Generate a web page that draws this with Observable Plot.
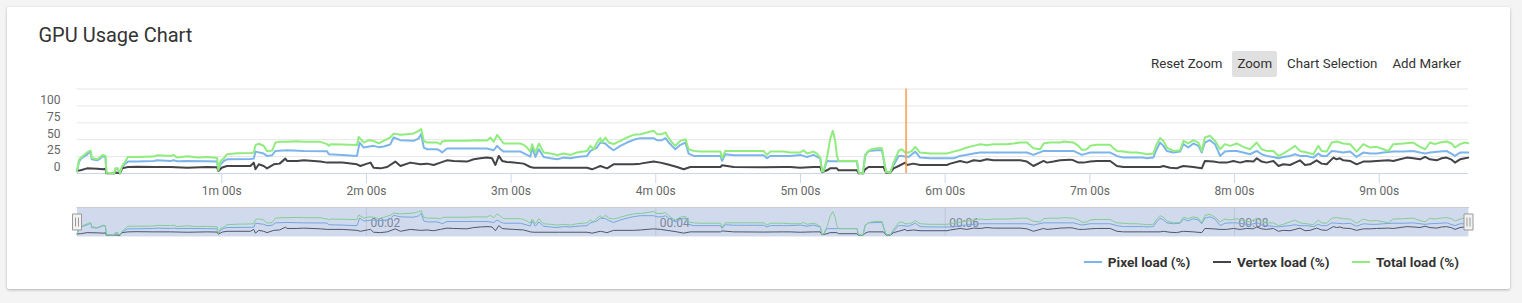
<!DOCTYPE html>
<html>
<head>
<meta charset="utf-8">
<script src="https://cdn.jsdelivr.net/npm/d3@7"></script>
<script src="https://cdn.jsdelivr.net/npm/@observablehq/plot@0.6"></script>
<style>
  html, body { margin: 0; padding: 0; }
  body { width: 1522px; height: 303px; overflow: hidden; position: relative; background: #f4f4f4; font-family: Roboto, "Noto Sans", sans-serif; }
  #card { position: absolute; left: 7px; top: 7px; width: 1503px; height: 282px; background: #fff; box-shadow: 0 1px 3px rgba(0,0,0,0.28); border-radius: 2px; }
  #title { position: absolute; left: 38.5px; top: 25px; font-size: 20px; line-height: 20px; color: #333; white-space: nowrap; }
  #buttons { position: absolute; right: 55.8px; top: 50.7px; display: flex; }
  #buttons span { display: block; height: 26.6px; line-height: 26.6px; padding: 0 5.3px; margin-left: 4.4px; font-size: 13.3px; color: #333; border-radius: 2px; white-space: nowrap; }
  #buttons span.active { background: #e0e0e0; }
  #legend { position: absolute; right: 63px; top: 253.5px; height: 17px; display: flex; align-items: center; }
  #legend .item { display: flex; align-items: center; margin-left: 22.5px; font-size: 13.6px; font-weight: bold; color: #333; white-space: nowrap; }
  #legend .item i { display: block; width: 18px; height: 2px; margin-right: 6px; }
  svg.abs { position: absolute; left: 0; }
</style>
</head>
<body>
<div id="card"></div>
<div id="title">GPU Usage Chart</div>
<div id="buttons"></div>
<div id="legend"></div>
<script>
// ---- data (seconds, percent) ----
const seriesNames = ["Pixel load (%)", "Vertex load (%)", "Total load (%)"];
const seriesColors = ["#7cb5ec", "#434348", "#90ed7d"];
const buttonLabels = ["Reset Zoom", "Zoom", "Chart Selection", "Add Marker"];
const activeButton = "Zoom";

const xTicks = [60, 120, 180, 240, 300, 360, 420, 480, 540];
const xTickLabels = ["1m 00s", "2m 00s", "3m 00s", "4m 00s", "5m 00s", "6m 00s", "7m 00s", "8m 00s", "9m 00s"];
const yTicks = [0, 25, 50, 75, 100];
const yGrid = [25, 50, 75, 100, 125];
const navTicks = [120, 240, 360, 480];
const navTickLabels = ["00:02", "00:04", "00:06", "00:08"];
const markerTimes = [343.8];
const timeDomain = [0, 577];

const totalLoad = [
  [0, 3], [0.8, 20], [1.5, 23], [2.8, 27], [4.2, 31], [5.2, 33.5], [5.8, 33], [6.1, 23], [8.4, 21], [9.7, 24.5], [10.6, 27.5], [11.8, 26], [12.2, 1], [15.5, 0.5], [16.0, 7.6], [16.9, 7.6], [17.8, 0.5], [18.7, 11], [19.7, 16], [21.1, 24.5], [24.9, 24.5], [31.8, 25], [33.2, 27], [38.8, 26], [40.1, 27.5], [41.5, 23.5], [45.7, 25.5], [50, 23.5], [54.0, 24.5], [56.7, 23.5], [58.1, 23], [58.6, 4.5], [59.5, 18.6], [60.9, 22.5], [62.2, 28.5], [66.4, 29.8], [71.9, 30.5], [73.3, 31], [74.0, 42], [75.4, 44], [77.4, 41], [78.8, 33], [80.9, 34], [82.3, 45.8], [83.7, 46.8], [87.1, 47], [91.3, 47.8], [94.0, 47], [100.9, 46.8], [103.7, 43.4], [104.4, 41], [105.1, 43.4], [110, 43], [116.1, 42], [116.8, 54.3], [118.9, 45.8], [121.0, 49.3], [123.0, 48.3], [125.1, 44.4], [127.2, 48.3], [129.9, 53.3], [131.3, 59],
  [134.1, 57.2], [136.9, 58.2], [139.6, 59.2], [141.7, 63.2], [142.7, 65.7], [143.8, 48.3], [145.2, 45.8], [149.3, 45.8], [150.7, 43.4], [151.4, 47.3], [153.4, 48.3], [161.7, 48.3], [166, 49.3], [170.0, 48.8], [171.4, 53.3], [172.8, 46.8], [174.2, 57.2], [175.6, 50.8], [176.9, 44.4], [183.9, 44.4], [185.2, 42.4], [186.6, 38.4], [188.0, 32.4], [188.7, 43.4], [190.1, 31.0], [191.5, 44.4], [193.5, 31.0], [196.3, 29.5], [199.1, 27.5], [201.8, 29.5], [204.6, 27.5], [207.3, 31.0], [211.5, 33.4], [212.9, 40.9], [214.3, 35.9], [215.6, 45.8], [217.0, 52.3], [217.7, 45.8], [219.1, 53.3], [220.5, 45.8], [222.5, 43.4], [225.3, 48.3], [228.1, 53.3], [230.8, 57.2], [233.6, 58.2], [236.4, 60.7], [239.1, 63.2], [240.5, 58.2], [242.6, 58.2], [244.0, 60.7], [245.4, 52.3], [246.7, 45.8], [248.1, 40.9], [250.2, 48.3], [252.3, 50.8], [253.6, 35.9], [255.7, 33.4], [258.5, 32.4], [266.8, 32.4], [267.5, 22.5], [268.8, 33.4], [272.3, 33.4], [284.7, 33.4], [286.1, 27.5], [287.5, 32.4], [293.0, 32.4],
  [295.7, 31.0], [299.9, 31.0], [301.3, 34.4], [302.7, 29.5], [305.4, 32.4], [306.8, 29.5], [308.2, 23.5], [308.9, 2.7], [309.6, 3.7], [311.0, 23.5], [312.3, 50.8], [313.4, 63.2], [314.4, 48.3], [315.1, 26.0], [315.8, 18.6], [323.4, 18.6], [324.1, 1.2], [325.9, 0.2], [326.8, 27.5], [328.2, 33.4], [329.6, 35.9], [331.7, 37.4], [333.8, 37.4], [334.4, 23.5], [335.5, 2.2], [337.2, 1.2], [338.6, 16.1], [340.7, 33.4], [342.0, 35.9], [343.4, 31.0], [344.8, 31.0], [346.2, 33.4], [347.6, 39.4], [349.6, 31.0], [353.8, 29.5], [360.7, 29.5], [363.5, 32.4], [366.2, 34.9], [369.0, 38.4], [371.8, 40.9], [374.5, 43.4], [377.3, 41.9], [380.0, 43.4], [385.6, 43.4], [388.3, 44.4], [391.1, 45.8], [393.9, 45.8], [396.6, 37.4], [399.4, 35.9], [400.8, 44.4], [403.5, 45.8], [407.7, 45.8], [409.1, 47.3], [413.2, 45.8], [415.3, 40.9], [416.7, 34.9], [418.7, 35.9], [420.1, 40.9], [422.9, 42.4], [428.4, 42.4], [429.8, 37.4], [431.2, 33.4], [433.9, 32.4], [436.7, 31.0], [439.5, 31.0], [442.2, 29.5],
  [443.6, 28.5], [446.3, 29.5], [447.7, 43.4], [449.1, 52.3], [450.5, 48.3], [451.9, 38.4], [454.6, 33.4], [457.4, 34.4], [458.8, 48.3], [460.8, 44.4], [462.9, 49.3], [465.0, 45.8], [466.4, 33.4], [467.7, 53.3], [469.8, 55.8], [471.9, 48.3], [474.0, 35.9], [476.0, 43.4], [478.1, 40.9], [480.9, 44.4], [483.6, 39.4], [486.4, 35.9], [489.2, 45.8], [491.2, 35.9], [493.3, 33.4], [496.1, 33.4], [498.2, 26.0], [500.2, 29.5], [503.0, 35.9], [505.1, 40.9], [507.1, 33.4], [509.9, 31.0], [512.7, 28.5], [514.7, 40.9], [516.1, 33.4], [518.2, 32.4], [520.3, 45.8], [522.3, 47.3], [525.1, 44.4], [527.9, 43.4], [530.6, 32.4], [533.4, 43.4], [536.2, 38.4], [538.9, 39.4], [541.7, 35.9], [543.8, 33.4], [545.8, 43.4], [550.0, 44.4], [554.1, 45.8], [556.9, 39.4], [559.0, 35.9], [561.0, 45.8], [563.1, 43.4], [565.2, 45.8], [567.9, 47.3], [570.0, 44.4], [571.4, 38.4], [573.5, 43.4], [575.5, 45.8], [576.9, 44.9]
];

const pixelLoad = [
  [0, 3], [0.8, 17], [1.5, 21], [2.8, 25], [4.2, 28], [5.2, 31], [5.8, 31], [6.1, 21], [8.4, 19.5], [9.7, 22.5], [10.6, 25.5], [11.8, 24.5], [12.2, 1], [15.5, 0.5], [16.0, 7], [16.9, 7], [17.8, 0.5], [18.7, 8.6], [19.7, 13.6], [21.1, 17.6], [24.9, 17.6], [31.8, 18.6], [33.2, 19.5], [38.8, 18.6], [40.1, 19.5], [41.5, 18.1], [45.7, 18.6], [54.0, 18.1], [58.1, 17.6], [58.6, 4.5], [59.5, 13.6], [60.9, 18.6], [62.2, 21.0], [71.9, 21.5], [73.3, 22.0], [74.0, 32.4], [77.4, 29.5], [78.8, 26.0], [80.9, 27.0], [82.3, 33.4], [87.1, 34.4], [94.0, 33.4], [103.7, 33.0], [104.4, 28.5], [110, 27.5], [116.1, 26.0], [117.2, 45.8], [118.9, 38.4], [123.0, 40.9], [125.1, 39.0], [127.2, 39.9], [129.9, 43], [131.3, 53.3],
  [134.1, 49.3], [139.6, 48.3], [141.7, 52], [142.7, 58.2], [143.8, 38.4], [145.2, 35.9], [149.3, 35.9], [150.7, 33.4], [151.4, 31.0], [153.4, 36.9], [161.7, 36.9], [170.0, 36.9], [172.8, 34.4], [174.2, 40.9], [175.6, 35.9], [176.9, 32.4], [183.9, 32.4], [186.6, 27.5], [188.0, 25], [188.7, 38.4], [190.1, 24.5], [191.5, 35.9], [193.5, 24.5], [196.3, 22.5], [199.1, 21.0], [201.8, 23.5], [204.6, 22.5], [207.3, 24.5], [211.5, 26.0], [212.9, 33.4], [215.6, 38.4], [217.0, 45.8], [219.1, 44.4], [220.5, 39.4], [222.5, 34.4], [225.3, 40.9], [228.1, 45.8], [230.8, 49.8], [233.6, 52.3], [239.1, 52.3], [240.5, 49.3], [242.6, 49.3], [244.0, 52.3], [245.4, 45.8], [246.7, 40.9], [248.1, 35.9], [250.2, 42.4], [252.3, 45.8], [253.6, 29.5], [255.7, 26.0], [266.8, 26.0], [267.5, 18.6], [268.8, 28.5], [272.3, 27.0], [284.7, 27.0], [286.1, 22.5], [287.5, 26.0], [293.0, 26.0],
  [295.7, 26.0], [299.9, 27.5], [302.7, 24.5], [305.4, 27.5], [308.2, 22.5], [308.9, 2.7], [309.6, 3.7], [311.0, 18.6], [312.3, 18], [315.8, 18], [323.4, 18], [324.1, 1.2], [325.9, 0.2], [326.8, 26], [328.2, 33.4], [331.7, 34.4], [333.8, 34.4], [334.4, 22.0], [335.5, 2.2], [337.2, 1.2], [338.6, 12], [340.7, 26.0], [342.0, 26.0], [344.8, 24.5], [347.6, 32.4], [349.6, 23.5], [353.8, 22.5], [363.5, 22.5], [366.2, 26.0], [371.8, 29.5], [374.5, 31.0], [393.9, 31.0], [396.6, 27.5], [400.8, 33.4], [403.5, 33.4], [413.2, 33.4], [416.7, 27.5], [420.1, 31.0], [428.4, 31.0], [431.2, 26.0], [433.9, 23.5], [442.2, 23.5],
  [443.6, 22.5], [446.3, 23.5], [447.7, 35.9], [449.1, 45.8], [450.5, 40.9], [451.9, 33.4], [454.6, 31.0], [457.4, 32.4], [458.8, 43.4], [460.8, 38.4], [462.9, 44.4], [465.0, 40.9], [466.4, 31.0], [467.7, 45.8], [469.8, 49.3], [471.9, 43.4], [474.0, 26.0], [476.0, 32.4], [478.1, 33.4], [480.9, 33.4], [483.6, 31.0], [486.4, 28.5], [489.2, 33.4], [491.2, 28.5], [493.3, 26.0], [496.1, 24.5], [498.2, 22.5], [500.2, 24.5], [503.0, 26.0], [505.1, 28.5], [507.1, 26.0], [509.9, 26.0], [512.7, 23.5], [514.7, 29.5], [516.1, 26.0], [518.2, 26.0], [520.3, 33.4], [522.3, 32.4], [525.1, 31.0], [527.9, 32.4], [530.6, 24.5], [533.4, 31.0], [536.2, 29.5], [538.9, 29.5], [541.7, 31.0], [545.8, 32.4], [550.0, 32.4], [554.1, 33.4], [556.9, 31.0], [559.0, 29.5], [561.0, 31.0], [565.2, 32.4], [567.9, 33.4], [571.4, 26.0], [573.5, 31.0], [576.9, 31.0]
];

const vertexLoad = [
  [0, 4], [1.5, 4.7], [4.2, 7.6], [8.4, 7], [10.8, 6.2], [11.8, 7], [12.2, 0.5], [15.5, 0.3], [16.0, 1.5], [17.8, 0.3], [18.7, 7.6], [21.1, 9.6], [24.9, 10.1], [31.8, 9.6], [38.8, 9.6], [45.7, 8.6], [54.0, 9.6], [58.1, 9.1], [58.6, 3.7], [60.2, 9], [62.2, 11.1], [71.9, 11.1], [73.3, 16.1], [74.0, 6.2], [75.4, 13.6], [77.4, 11.1], [78.8, 7.6], [81.6, 13.6], [84, 14.6], [86.4, 22.0], [87.1, 18.6], [91.3, 18.6], [94.0, 19.5], [100.9, 17.6], [103.7, 16.1], [110, 16.1], [116.1, 13.6], [117.5, 11.1], [120.3, 14.6], [121.7, 16.1], [123.0, 8.6], [125.8, 7.6], [128.6, 9.6], [132.0, 17.6],
  [134.1, 11.1], [138.2, 16.1], [142.4, 13.6], [145.2, 14.6], [147.9, 12.6], [150.7, 16.1], [153.4, 19.5], [156.2, 18.6], [161.7, 17.6], [164.5, 21.0], [167.3, 22.5], [170.0, 23.5], [172.1, 22.5], [173.5, 12.6], [174.9, 26.0], [176.3, 18.6], [178.3, 17.1], [181.1, 16.1], [185.2, 14.6], [188.0, 9.6], [189.4, 8.6], [200, 8.6], [211.5, 8.6], [213.6, 6.2], [215.6, 9], [217.0, 11.1], [219.8, 7.6], [222.5, 13.6], [230.8, 13.6], [233.6, 14.6], [239.1, 17.6], [241.9, 16.1], [244.7, 13.6], [248.8, 9.6], [251.6, 6.2], [254.3, 9.6], [266.8, 9.6], [267.5, 12.1], [272.3, 9.6], [284.7, 9.1], [293.0, 9.6],
  [295.7, 9.6], [299.9, 8.6], [305.4, 9.6], [308.2, 9.6], [308.9, 2.2], [311.0, 4.7], [312.3, 7.6], [315.1, 7.6], [315.8, 4.7], [323.4, 4.7], [324.1, 0.2], [325.9, 0.2], [326.8, 6.2], [328.2, 9.6], [334.4, 9.6], [335.5, 1.2], [337.2, 1.2], [338.6, 7.6], [340.7, 11.1], [343.4, 16.1], [344.1, 12.6], [346.9, 14.6], [349.6, 12.6], [360.7, 12.6], [362.1, 14.6], [366.2, 18.6], [369.0, 16.1], [371.8, 19.5], [374.5, 18.6], [377.3, 21.0], [380.0, 19.5], [391.1, 19.5], [393.9, 17.6], [396.6, 11.1], [400.8, 18.6], [402.2, 16.1], [404.9, 17.6], [407.7, 19.5], [411.8, 20.5], [413.2, 19.5], [415.3, 16.1], [417.4, 16.1], [420.1, 17.6], [422.9, 18.6], [428.4, 18.6], [431.2, 11.1], [433.9, 9.6], [442.2, 9.6],
  [443.6, 9.6], [449.1, 9.6], [450.5, 11.1], [453.2, 8.6], [456.0, 7.6], [457.4, 9.6], [458.8, 11.1], [462.9, 9.6], [466.4, 7.6], [467.7, 18.6], [471.2, 17.6], [474.0, 16.1], [476.7, 16.1], [479.5, 18.6], [482.3, 16.1], [485.0, 18.6], [487.8, 17.6], [489.2, 22.5], [491.2, 17.6], [493.3, 16.1], [496.1, 18.6], [498.2, 11.1], [500.2, 13.6], [503.0, 12.6], [505.1, 16.1], [507.1, 19.5], [509.2, 12.6], [511.3, 13.6], [514.0, 19.5], [516.1, 14.6], [518.2, 13.6], [521.0, 23.5], [522.3, 21.0], [523.7, 22.5], [525.1, 19.5], [527.9, 18.6], [530.6, 13.6], [533.4, 17.6], [536.2, 17.6], [538.9, 18.6], [543.8, 19.5], [545.8, 18.6], [548.6, 21.0], [551.4, 23.5], [554.1, 22.5], [556.9, 21.0], [559.0, 24.5], [561.0, 21.0], [563.8, 19.5], [565.9, 22.5], [567.9, 23.5], [570.0, 20.5], [571.4, 16.1], [573.5, 21.0], [575.5, 22.5], [576.9, 23.5]
];

const seriesData = [pixelLoad, vertexLoad, totalLoad];

// ---- buttons & legend ----
const btns = document.getElementById("buttons");
buttonLabels.forEach(b => {
  const s = document.createElement("span");
  s.textContent = b;
  if (b === activeButton) s.className = "active";
  btns.appendChild(s);
});
const legend = document.getElementById("legend");
seriesNames.forEach((n, i) => {
  const it = document.createElement("div");
  it.className = "item";
  const sw = document.createElement("i");
  sw.style.background = seriesColors[i];
  it.appendChild(sw);
  it.appendChild(document.createTextNode(n));
  legend.appendChild(it);
});

// ---- main chart ----
const main = Plot.plot({
  width: 1522, height: 122,
  marginLeft: 76.5, marginRight: 54, marginTop: 8.5, marginBottom: 29,
  x: {domain: timeDomain},
  y: {domain: [0, 125]},
  style: {fontFamily: "Roboto, sans-serif", fontSize: "12px", background: "transparent", overflow: "visible"},
  marks: [
    Plot.gridY(yGrid, {stroke: "#e6e6e6", strokeOpacity: 1}),
    Plot.ruleY([0], {stroke: "#ccd6eb"}),
    Plot.axisY(yTicks, {tickSize: 0, tickPadding: 16.5, dy: -6, fill: "#666", label: null, fontSize: 12}),
    Plot.axisX(xTicks, {tickSize: 10, tickPadding: 3, stroke: "#ccd6eb", fill: "#666", label: null, fontSize: 12,
      tickFormat: d => xTickLabels[xTicks.indexOf(d)]}),
    ...seriesData.map((s, i) => Plot.line(s, {stroke: seriesColors[i], strokeWidth: 2, strokeLinejoin: "round"})),
    Plot.ruleX(markerTimes, {stroke: "#f7a35c", strokeWidth: 2, strokeOpacity: 0.85})
  ]
});
main.classList.add("abs");
main.style.top = "80px";
document.body.appendChild(main);

// ---- navigator ----
const handleSymbol = {
  draw(ctx) {
    ctx.moveTo(-4.5, -8); ctx.lineTo(4.5, -8); ctx.lineTo(4.5, 8); ctx.lineTo(-4.5, 8); ctx.closePath();
    ctx.moveTo(-1.5, -4.5); ctx.lineTo(-1.5, 4.5);
    ctx.moveTo(1.5, -4.5); ctx.lineTo(1.5, 4.5);
  }
};
const nav = Plot.plot({
  width: 1522, height: 45,
  marginLeft: 76.5, marginRight: 54, marginTop: 7, marginBottom: 9,
  x: {domain: timeDomain, axis: null},
  y: {domain: [0, 66], range: [35, 10], axis: null},
  style: {fontFamily: "Roboto, sans-serif", fontSize: "12px", background: "transparent", overflow: "visible"},
  marks: [
    Plot.gridX(navTicks, {stroke: "#e6e6e6", strokeOpacity: 1}),
    Plot.text(navTicks, {x: d => d, text: (d, i) => navTickLabels[i], frameAnchor: "bottom", dy: -10, dx: 4, textAnchor: "start", fill: "#888", fontSize: 12}),
    ...seriesData.map((s, i) => Plot.line(s, {stroke: seriesColors[i], strokeWidth: 1})),
    Plot.frame({fill: "rgba(102,133,194,0.3)", stroke: "none"}),
    Plot.frame({anchor: "top", stroke: "#cccccc"}),
    Plot.dot(timeDomain, {x: d => d, frameAnchor: "middle", symbol: handleSymbol, r: 5, fill: "#f2f2f2", stroke: "#999999", strokeWidth: 1})
  ]
});
nav.classList.add("abs");
nav.style.top = "200px";
document.body.appendChild(nav);
</script>
</body>
</html>
